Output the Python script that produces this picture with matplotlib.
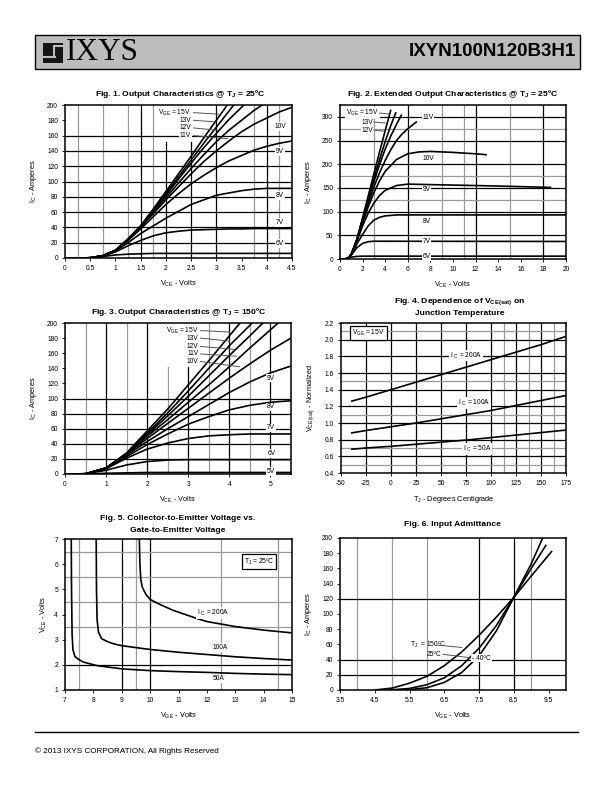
import numpy as np
import matplotlib
matplotlib.use("Agg")
import matplotlib.pyplot as plt
from matplotlib.patches import Rectangle
from matplotlib.lines import Line2D

# ---- data ----
# Fig. 1  output characteristics @ 25C  (VCE in V, IC in A)
fig1_vce = [0, 0.25, 0.5, 0.75, 1.0, 1.25, 1.5, 1.75, 2.0, 2.25, 2.5, 2.75, 3.0, 3.25, 3.5, 3.75, 4.0, 4.25, 4.5]
fig1_ic_6v = [0, 0, 0.3, 2, 4, 5, 5.5, 6, 6, 6, 6, 6, 6, 6, 6, 6, 6, 6, 6]
fig1_ic_7v = [0, 0, 0.3, 2.5, 8, 16, 23, 29, 33, 35, 36.5, 37, 37.5, 38, 38, 38.5, 38.5, 38.5, 38.5]
fig1_ic_8v = [0, 0, 0.3, 2.5, 9, 20, 32, 42, 52, 61, 70, 76, 82, 85, 88, 90, 91, 91, 91]
fig1_ic_9v = [0, 0, 0.3, 3, 10, 23, 38, 54, 70, 84, 97, 108, 118, 127, 134, 141, 146, 150, 153]
fig1_ic_10v = [0, 0, 0.3, 3, 10, 24, 40, 58, 76, 93, 110, 126, 140, 153, 165, 175, 183, 191, 197]
fig1_ic_11v = [0, 0, 0.3, 3, 10, 24, 40, 60, 79, 98, 117, 135, 152, 167, 180, 193, 204, 215, 226]
fig1_ic_12v = [0, 0, 0.3, 3, 10, 25, 41, 62, 82, 103, 124, 144, 163, 181, 197, 214, 230, 246, 262]
fig1_ic_13v = [0, 0, 0.3, 3, 10, 25, 42, 63, 84, 106, 128, 150, 171, 192, 213, 234, 255, 276, 297]
fig1_ic_15v = [0, 0, 0.3, 3, 10, 25, 42, 64, 87, 110, 133, 157, 180, 203, 226, 249, 272, 295, 318]

# Fig. 2  extended output characteristics @ 25C
fig2_vce_6v = [0, 0.5, 0.75, 1.0, 1.5, 2.0, 3.0, 20]
fig2_ic_6v = [0, 0.3, 1.5, 4, 5.5, 6, 6, 6]
fig2_vce_7v = [0, 0.5, 0.75, 1.0, 1.5, 2.0, 2.5, 3.0, 20]
fig2_ic_7v = [0, 0.3, 2.5, 8, 24, 33, 36.5, 37.5, 37]
fig2_vce_8v = [0, 0.5, 0.75, 1.0, 1.5, 2.0, 2.5, 3.0, 3.5, 4.0, 5.0, 20]
fig2_ic_8v = [0, 0.3, 2.5, 9, 32, 52, 70, 82, 88, 91, 93, 93]
fig2_vce_9v = [0, 0.5, 0.75, 1.0, 1.5, 2.0, 2.5, 3.0, 3.5, 4.0, 5.0, 6.0, 8.0, 10.0, 14.0, 18.7]
fig2_ic_9v = [0, 0.3, 3, 10, 38, 70, 97, 118, 134, 145, 155, 158, 157, 156, 154, 151]
fig2_vce_10v = [0, 0.5, 0.75, 1.0, 1.5, 2.0, 2.5, 3.0, 3.5, 4.0, 5.0, 6.0, 7.0, 8.0, 10.0, 12.0, 13.0]
fig2_ic_10v = [0, 0.3, 3, 10, 40, 76, 110, 140, 165, 185, 210, 222, 226, 227, 225, 222, 220]
fig2_vce_11v = [0, 0.5, 0.75, 1.0, 1.5, 2.0, 2.5, 3.0, 3.5, 4.0, 4.5, 5.0, 5.5, 6.0, 6.8]
fig2_ic_11v = [0, 0.3, 3, 10, 40, 79, 117, 152, 182, 208, 231, 250, 264, 275, 290]
fig2_vce_12v = [0, 0.5, 0.75, 1.0, 1.5, 2.0, 2.5, 3.0, 3.5, 4.0, 4.5, 5.0, 5.46]
fig2_ic_12v = [0, 0.3, 3, 10, 41, 82, 124, 163, 199, 232, 260, 284, 305]
fig2_vce_13v = [0, 0.5, 0.75, 1.0, 1.5, 2.0, 2.5, 3.0, 3.5, 4.0, 4.5, 4.96]
fig2_ic_13v = [0, 0.3, 3, 10, 42, 84, 128, 171, 210, 248, 282, 310]
fig2_vce_15v = [0, 0.5, 0.75, 1.0, 1.5, 2.0, 2.5, 3.0, 3.5, 4.0, 4.5]
fig2_ic_15v = [0, 0.3, 3, 10, 42, 87, 133, 180, 226, 271, 315]

# Fig. 3  output characteristics @ 150C
fig3_vce = [0, 0.5, 1.0, 1.5, 2.0, 2.5, 3.0, 3.5, 4.0, 4.5, 5.0, 5.5]
fig3_ic_5v = [0, 0, 1, 1.5, 2, 2, 2, 2, 2, 2, 2, 2]
fig3_ic_6v = [0, 0.2, 5, 12, 16.5, 18.5, 19, 19, 19, 19, 19, 19]
fig3_ic_7v = [0, 0.3, 7, 21, 33, 41, 47, 50.5, 52, 53, 53, 53]
fig3_ic_8v = [0, 0.3, 7, 23, 39, 53, 66, 76, 85, 91, 95, 97]
fig3_ic_9v = [0, 0.3, 8, 25, 43, 60, 76, 92, 108, 122, 134, 143]
fig3_ic_10v = [0, 0.3, 8, 26, 47, 67, 87, 107, 127, 146, 164, 180]
fig3_ic_11v = [0, 0.3, 8, 27, 50, 72, 95, 118, 142, 167, 191, 215]
fig3_ic_12v = [0, 0.3, 8, 27, 52, 77, 103, 130, 157, 183, 210, 236]
fig3_ic_13v = [0, 0.3, 8, 27, 54, 81, 110, 140, 170, 197, 225, 253]
fig3_ic_15v = [0, 0.3, 8, 28, 57, 86, 118, 150, 183, 216, 249, 282]

# Fig. 4  normalised VCE(sat) vs junction temperature
fig4_tj = [-40, -25, 0, 25, 50, 75, 100, 125, 150, 175]
fig4_v_200a = [1.26, 1.31, 1.40, 1.49, 1.58, 1.67, 1.76, 1.85, 1.94, 2.04]
fig4_v_100a = [0.88, 0.91, 0.955, 1.0, 1.05, 1.10, 1.15, 1.21, 1.27, 1.33]
fig4_v_50a = [0.685, 0.70, 0.72, 0.745, 0.77, 0.795, 0.825, 0.855, 0.885, 0.915]

# Fig. 5  VCE vs VGE
fig5_vge_200a = [9.62, 9.64, 9.67, 9.72, 9.85, 10.0, 10.25, 10.8, 11.65, 12.0, 13.0, 14.0, 15.0]
fig5_vce_200a = [7.0, 6.0, 5.4, 5.1, 4.8, 4.6, 4.45, 4.17, 3.84, 3.72, 3.52, 3.38, 3.27]
fig5_vge_100a = [8.10, 8.11, 8.13, 8.18, 8.29, 8.5, 8.7, 9.0, 10.0, 11.0, 12.0, 13.0, 14.0, 15.0]
fig5_vce_100a = [7.0, 5.0, 3.8, 3.3, 3.04, 2.92, 2.84, 2.76, 2.61, 2.5, 2.41, 2.32, 2.25, 2.19]
fig5_vge_50a = [7.22, 7.23, 7.25, 7.28, 7.35, 7.5, 7.65, 8.12, 9.0, 10.0, 11.0, 12.0, 13.0, 14.0, 15.0]
fig5_vce_50a = [7.0, 5.0, 3.2, 2.6, 2.33, 2.2, 2.11, 1.97, 1.84, 1.77, 1.73, 1.70, 1.66, 1.63, 1.61]

# Fig. 6  input admittance
fig6_vge_150c = [4.5, 5.0, 5.5, 6.0, 6.5, 7.0, 7.5, 8.0, 8.5, 9.0, 9.6]
fig6_ic_150c = [0, 2.5, 9, 18, 32, 50, 72, 96, 122, 150, 183]
fig6_vge_25c = [4.9, 5.5, 6.0, 6.5, 7.0, 7.5, 8.0, 8.5, 9.0, 9.43]
fig6_ic_25c = [0, 2, 7, 16, 32, 55, 85, 122, 160, 191]
fig6_vge_m40c = [5.4, 6.0, 6.5, 7.0, 7.5, 8.0, 8.5, 9.0, 9.33]
fig6_ic_m40c = [0, 3, 10, 23, 45, 78, 122, 166, 200]

W, H = 612, 792
GRAY = "#9a9a9a"
HEADER_GRAY = "#bdbdbd"
FONT = ["Liberation Sans", "DejaVu Sans"]

plt.rcParams["font.family"] = FONT
plt.rcParams["mathtext.default"] = "regular"
plt.rcParams["axes.linewidth"] = 1.1


def px_axes(fig, l, t, r, b):
    return fig.add_axes([l / W, 1 - b / H, (r - l) / W, (b - t) / H])


def fig_line(fig, xs, ys, color, lw):
    fig.lines.append(Line2D([x / W for x in xs], [1 - y / H for y in ys],
                            transform=fig.transFigure, color=color, lw=lw))


def style(ax, xlim, ylim, xticks, yticks, xfmt="%g", yfmt="%g"):
    ax.set_xlim(*xlim)
    ax.set_ylim(*ylim)
    ax.set_xticks(xticks)
    ax.set_yticks(yticks)
    ax.set_xticklabels([xfmt % v for v in xticks])
    ax.set_yticklabels([yfmt % v for v in yticks])
    ax.tick_params(labelsize=4.8, length=2, width=0.6, pad=3, direction="out")


def grid(ax, vblack=(), vgray=(), hblack=(), hgray=(), vpartial=None):
    vpartial = vpartial or {}
    for x in vgray:
        ax.axvline(x, color=GRAY, lw=0.9, zorder=1, ymax=vpartial.get(x, 1))
    for x in vblack:
        ax.axvline(x, color="black", lw=0.9, zorder=1, ymax=vpartial.get(x, 1))
    for y in hgray:
        ax.axhline(y, color=GRAY, lw=0.9, zorder=1)
    for y in hblack:
        ax.axhline(y, color="black", lw=0.9, zorder=1)


def curve(ax, x, y):
    ax.plot(x, y, color="black", lw=1.2, zorder=3, solid_capstyle="butt")


def lbl(ax, x, y, s, ha="left", white=True, size=4.8):
    kw = dict(fontsize=size, ha=ha, va="center", zorder=4)
    if white:
        kw["bbox"] = dict(fc="white", ec="none", pad=0.6)
    ax.text(x, y, s, **kw)


def leader(ax, x0, y0, x1, y1):
    ax.plot([x0, x1], [y0, y1], color="#555555", lw=0.7, zorder=4)


def title(fig, xc, y, s):
    fig.text(xc / W, 1 - y / H, s, ha="center", va="center", fontsize=6.1, fontweight="bold")


def main():
    fig = plt.figure(figsize=(W / 100, H / 100), dpi=100)
    fig.patch.set_facecolor("white")

    # ---- header bar ----
    fig.patches.append(Rectangle((35 / W, 1 - 69 / H), 545 / W, 34 / H, transform=fig.transFigure,
                                 fc=HEADER_GRAY, ec="black", lw=1.0))
    fig.patches.append(Rectangle((43 / W, 1 - 63 / H), 20 / W, 20 / H, transform=fig.transFigure,
                                 fc="#151515", ec="none"))
    fig_line(fig, [54, 54], [46, 57], HEADER_GRAY, 1.5)
    fig_line(fig, [43, 54.5], [57, 57], HEADER_GRAY, 1.5)
    fig_line(fig, [54, 63], [46, 46], HEADER_GRAY, 1.5)
    fig.text(66 / W, 1 - 53 / H, "IXYS", fontsize=22.5, family=["Liberation Serif", "DejaVu Serif"],
             ha="left", va="center")
    fig.text(576 / W, 1 - 52 / H, "IXYN100N120B3H1", fontsize=13.5, fontweight="bold",
             family=["Liberation Sans", "DejaVu Sans"], ha="right", va="center")

    # ---- Fig. 1 ----
    ax = px_axes(fig, 65, 105, 292, 258)
    style(ax, (0, 4.5), (0, 200), np.arange(0, 4.51, 0.5), np.arange(0, 201, 20))
    grid(ax, vblack=[1.5, 2, 2.5, 3, 4], vgray=[0.25, 0.75, 1.25, 1.75, 3.75, 4.25],
         hblack=[20, 40, 60, 80, 100, 120, 140, 160], vpartial={2: 0.76, 2.5: 0.76})
    for ic in [fig1_ic_6v, fig1_ic_7v, fig1_ic_8v, fig1_ic_9v, fig1_ic_10v,
               fig1_ic_11v, fig1_ic_12v, fig1_ic_13v, fig1_ic_15v]:
        curve(ax, fig1_vce, ic)
    lbl(ax, 2.5, 190, "V$_{GE}$ = 15V", ha="right")
    lbl(ax, 2.5, 180, "13V", ha="right")
    lbl(ax, 2.5, 170, "12V", ha="right")
    lbl(ax, 2.5, 160, "11V", ha="right")
    leader(ax, 2.55, 190, 3.05, 188)
    leader(ax, 2.55, 180, 2.98, 178)
    leader(ax, 2.55, 170, 3.02, 167)
    leader(ax, 2.55, 160, 3.22, 156)
    lbl(ax, 4.15, 172, "10V")
    lbl(ax, 4.18, 139, "9V")
    lbl(ax, 4.18, 82, "8V")
    lbl(ax, 4.18, 46.5, "7V")
    lbl(ax, 4.18, 19, "6V")
    ax.set_xlabel("V$_{CE}$ - Volts", fontsize=5.3, labelpad=5)
    ax.set_ylabel("I$_C$ - Amperes", fontsize=5.3, labelpad=6)
    title(fig, 180, 94, "Fig. 1. Output Characteristics @ T$_J$ = 25ºC")

    # ---- Fig. 2 ----
    ax = px_axes(fig, 340, 105, 566, 259)
    style(ax, (0, 20), (0, 325), np.arange(0, 21, 2), np.arange(0, 301, 50))
    grid(ax, vblack=[6, 12, 18], vgray=[3, 9, 11, 15],
         hblack=[50, 100, 150, 200, 250, 300], hgray=[125, 175, 275])
    for vx, iy in [(fig2_vce_6v, fig2_ic_6v), (fig2_vce_7v, fig2_ic_7v), (fig2_vce_8v, fig2_ic_8v),
                   (fig2_vce_9v, fig2_ic_9v), (fig2_vce_10v, fig2_ic_10v), (fig2_vce_11v, fig2_ic_11v),
                   (fig2_vce_12v, fig2_ic_12v), (fig2_vce_13v, fig2_ic_13v), (fig2_vce_15v, fig2_ic_15v)]:
        curve(ax, vx, iy)
    lbl(ax, 3.45, 308, "V$_{GE}$ = 15V", ha="right")
    lbl(ax, 2.95, 289, "13V", ha="right")
    lbl(ax, 2.95, 272, "12V", ha="right")
    leader(ax, 3.5, 308, 4.35, 306)
    leader(ax, 3.0, 289, 4.0, 287)
    leader(ax, 3.0, 272, 3.85, 270)
    lbl(ax, 7.3, 298, "11V")
    lbl(ax, 7.3, 212, "10V")
    lbl(ax, 7.3, 146, "9V")
    lbl(ax, 7.3, 79, "8V")
    lbl(ax, 7.3, 37, "7V")
    lbl(ax, 7.3, 5, "6V")
    ax.set_xlabel("V$_{CE}$ - Volts", fontsize=5.3, labelpad=5)
    ax.set_ylabel("I$_C$ - Amperes", fontsize=5.3, labelpad=6)
    title(fig, 453, 94, "Fig. 2. Extended Output Characteristics @ T$_J$ = 25ºC")

    # ---- Fig. 3 ----
    ax = px_axes(fig, 65, 323, 291, 474)
    style(ax, (0, 5.5), (0, 200), np.arange(0, 5.1, 1), np.arange(0, 201, 20))
    grid(ax, vblack=[1, 2, 3, 4, 5], vgray=[0.5, 1.5, 2.5, 3.5, 4.5],
         hblack=[20, 40, 60, 80, 100], vpartial={2.5: 0.71, 3: 0.71})
    for ic in [fig3_ic_5v, fig3_ic_6v, fig3_ic_7v, fig3_ic_8v, fig3_ic_9v,
               fig3_ic_10v, fig3_ic_11v, fig3_ic_12v, fig3_ic_13v, fig3_ic_15v]:
        curve(ax, fig3_vce, ic)
    lbl(ax, 3.25, 190, "V$_{GE}$ = 15V", ha="right")
    lbl(ax, 3.25, 180, "13V", ha="right")
    lbl(ax, 3.25, 169, "12V", ha="right")
    lbl(ax, 3.25, 159, "11V", ha="right")
    lbl(ax, 3.25, 149, "10V", ha="right")
    leader(ax, 3.3, 190, 4.0, 188)
    leader(ax, 3.3, 180, 4.0, 176)
    leader(ax, 3.3, 169, 4.13, 165)
    leader(ax, 3.3, 159, 4.17, 156)
    leader(ax, 3.3, 149, 4.25, 142)
    lbl(ax, 4.92, 127, "9V")
    lbl(ax, 4.92, 89, "8V")
    lbl(ax, 4.92, 61, "7V")
    lbl(ax, 4.92, 27, "6V")
    lbl(ax, 4.92, 3, "5V")
    ax.set_xlabel("V$_{CE}$ - Volts", fontsize=5.3, labelpad=5)
    ax.set_ylabel("I$_C$ - Amperes", fontsize=5.3, labelpad=6)
    title(fig, 179, 312, "Fig. 3. Output Characteristics @ T$_J$ = 150ºC")

    # ---- Fig. 4 ----
    ax = px_axes(fig, 341, 323, 566, 473)
    style(ax, (-50, 175), (0.4, 2.2), np.arange(-50, 176, 25), np.arange(0.4, 2.21, 0.2), yfmt="%.1f")
    grid(ax, vblack=[-25, 0, 25, 50, 75, 100, 125, 150], vgray=[112.5, 137.5, 162.5],
         hblack=[0.6, 0.8, 1.0, 1.2, 1.4, 1.6, 1.8, 2.0], hgray=[0.5, 0.7, 1.1, 1.5, 2.1])
    curve(ax, fig4_tj, fig4_v_200a)
    curve(ax, fig4_tj, fig4_v_100a)
    curve(ax, fig4_tj, fig4_v_50a)
    lbl(ax, 59, 1.81, "I $_C$ = 200A")
    lbl(ax, 67, 1.24, "I $_C$ = 100A")
    lbl(ax, 72, 0.69, "I $_C$ = 50A")
    ax.text(-39, 2.08, "V$_{GE}$ = 15V", fontsize=4.8, ha="left", va="center", zorder=4,
            bbox=dict(fc="white", ec="black", lw=0.9, pad=1.5))
    ax.set_xlabel("T$_J$ - Degrees Centigrade", fontsize=5.3, labelpad=5)
    ax.set_ylabel("V$_{CE(sat)}$ - Normalized", fontsize=5.3, labelpad=6)
    title(fig, 460, 302, "Fig. 4. Dependence of V$_{CE(sat)}$ on")
    title(fig, 460, 314, "Junction Temperature")

    # ---- Fig. 5 ----
    ax = px_axes(fig, 65, 539, 292, 690)
    style(ax, (7, 15), (1, 7), np.arange(7, 15.1, 1), np.arange(1, 7.1, 1))
    grid(ax, vblack=[9, 10], vgray=[7.5, 9.5, 12.5, 14.5],
         hblack=[2], hgray=[3.5, 4.5, 5.5, 6.5])
    curve(ax, fig5_vge_200a, fig5_vce_200a)
    curve(ax, fig5_vge_100a, fig5_vce_100a)
    curve(ax, fig5_vge_50a, fig5_vce_50a)
    lbl(ax, 11.65, 4.07, "I $_C$ = 200A")
    lbl(ax, 12.2, 2.7, "100A")
    lbl(ax, 12.2, 1.44, "50A")
    ax.text(13.3, 6.1, "T$_J$ = 25ºC", fontsize=4.8, ha="left", va="center", zorder=4,
            bbox=dict(fc="white", ec="black", lw=0.9, pad=1.5))
    ax.set_xlabel("V$_{GE}$ - Volts", fontsize=5.3, labelpad=5)
    ax.set_ylabel("V$_{CE}$ - Volts", fontsize=5.3, labelpad=4)
    title(fig, 178, 519, "Fig. 5. Collector-to-Emitter Voltage vs.")
    title(fig, 178, 530, "Gate-to-Emitter Voltage")

    # ---- Fig. 6 ----
    ax = px_axes(fig, 340, 538, 566, 690)
    style(ax, (3.5, 10), (0, 200), np.arange(3.5, 9.6, 1), np.arange(0, 201, 20))
    grid(ax, vblack=[7.5, 8.5], vgray=[4, 5, 6, 9], hblack=[20, 40, 120])
    curve(ax, fig6_vge_150c, fig6_ic_150c)
    curve(ax, fig6_vge_25c, fig6_ic_25c)
    curve(ax, fig6_vge_m40c, fig6_ic_m40c)
    lbl(ax, 5.5, 59, "T$_J$  = 150ºC", white=False)
    leader(ax, 6.32, 59, 7.0, 56)
    lbl(ax, 6.0, 47, "25ºC", white=False)
    leader(ax, 6.46, 47, 7.32, 42)
    lbl(ax, 7.3, 42, "- 40ºC")
    ax.set_xlabel("V$_{GE}$ - Volts", fontsize=5.3, labelpad=5)
    ax.set_ylabel("I$_C$ - Amperes", fontsize=5.3, labelpad=6)
    title(fig, 452, 524, "Fig. 6. Input Admittance")

    # ---- footer ----
    fig_line(fig, [35, 578], [732, 732], "black", 1.0)
    fig.text(35 / W, 1 - 751 / H, "© 2013 IXYS CORPORATION, All Rights Reserved", fontsize=5.9,
             family=["Liberation Sans", "DejaVu Sans"], ha="left", va="center")

    fig.savefig("out.png", dpi=100)


if __name__ == "__main__":
    main()
